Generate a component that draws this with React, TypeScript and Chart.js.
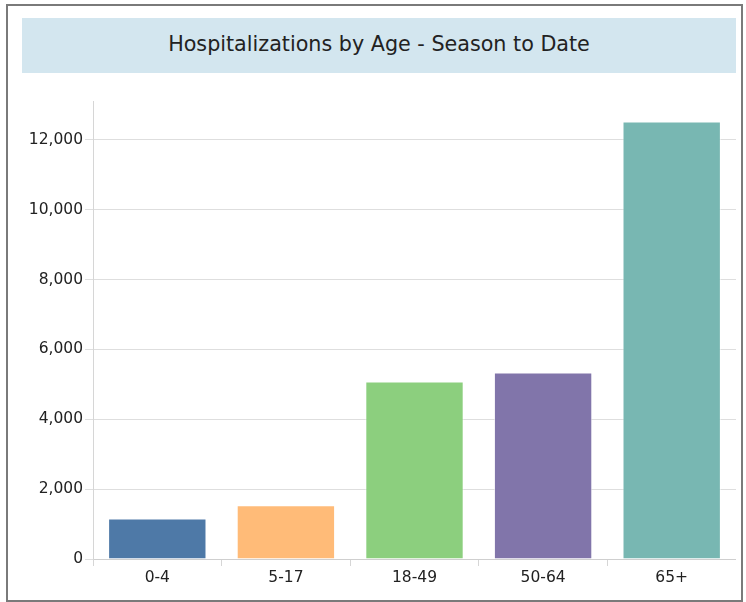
import React, { useEffect, useRef } from "react";
import { Chart, registerables } from "chart.js";

Chart.register(...registerables);

const categories = ["0-4", "5-17", "18-49", "50-64", "65+"];
const hospitalizations = [1160, 1540, 5080, 5340, 12520];
const barColors = ["#4e79a7", "#ffbb78", "#8ccf7e", "#8175aa", "#78b7b2"];
const yTickValues = [0, 2000, 4000, 6000, 8000, 10000, 12000];
const titleText = "Hospitalizations by Age - Season to Date";

const FONT = "'DejaVu Sans', Verdana, sans-serif";

export default function App() {
  const canvasRef = useRef<HTMLCanvasElement | null>(null);

  useEffect(() => {
    if (!canvasRef.current) return;
    const chart = new Chart(canvasRef.current, {
      type: "bar",
      data: {
        labels: categories,
        datasets: [
          {
            data: hospitalizations,
            backgroundColor: barColors,
            borderColor: "rgba(255,255,255,0.55)",
            borderWidth: 1,
            categoryPercentage: 0.85,
            barPercentage: 0.9,
          },
        ],
      },
      options: {
        animation: false,
        responsive: false,
        maintainAspectRatio: false,
        layout: { padding: { top: 0, right: 0, bottom: 1, left: 0 } },
        plugins: {
          legend: { display: false },
          title: { display: false },
          tooltip: { enabled: false },
        },
        scales: {
          x: {
            grid: {
              display: true,
              drawOnChartArea: false,
              drawTicks: true,
              tickLength: 7,
              color: "#d6d6d6",
              offset: true,
            },
            border: { display: true, color: "#cfcfcf", width: 1 },
            ticks: {
              color: "#222",
              font: { family: FONT, size: 15.5 },
              padding: 3,
              maxRotation: 0,
            },
            afterFit: (s: any) => {
              s.height = 30;
            },
          },
          y: {
            min: 0,
            max: 13100,
            afterBuildTicks: (s: any) => {
              s.ticks = yTickValues.map((v) => ({ value: v }));
            },
            grid: {
              color: "#dedede",
              drawTicks: true,
              tickLength: 8,
            },
            border: { display: true, color: "#d6d6d6", width: 1 },
            ticks: {
              color: "#222",
              font: { family: FONT, size: 15.5 },
              padding: 2,
              callback: (v: any) => Number(v).toLocaleString("en-US"),
            },
            afterFit: (s: any) => {
              s.width = 73;
            },
          },
        },
      },
    });
    return () => chart.destroy();
  }, []);

  return (
    <div style={{ position: "absolute", left: 0, top: 0, width: 746, height: 602, background: "#fff" }}>
      <div
        style={{
          position: "absolute",
          left: 6,
          top: 4,
          width: 733,
          height: 594,
          border: "2px solid #7a7a7a",
          boxSizing: "content-box",
        }}
      />
      <div
        style={{
          position: "absolute",
          left: 22,
          top: 18,
          width: 714,
          height: 55,
          background: "#d3e6ef",
          display: "flex",
          alignItems: "center",
          justifyContent: "center",
          fontFamily: FONT,
          fontSize: 20.7,
          color: "#222",
          paddingBottom: 3,
          boxSizing: "border-box",
        }}
      >
        {titleText}
      </div>
      <canvas
        ref={canvasRef}
        width={716}
        height={500}
        style={{ position: "absolute", left: 20, top: 90, width: 716, height: 500 }}
      />
    </div>
  );
}
